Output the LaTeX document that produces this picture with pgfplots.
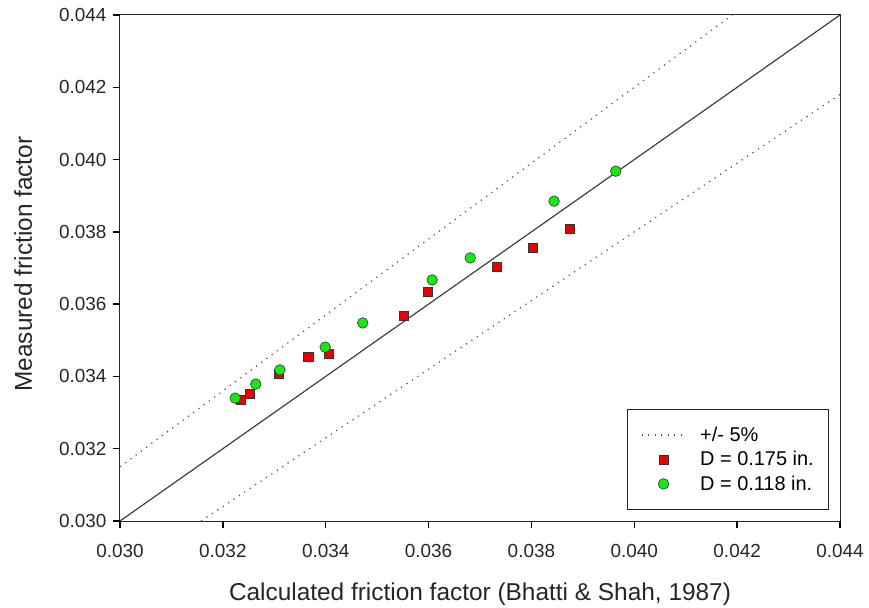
\documentclass[border=0pt]{standalone}
\usepackage{pgfplots}
\pgfplotsset{compat=1.18}
\usepackage{fontspec}
\setmainfont{Liberation Sans}
\definecolor{mred}{RGB}{235,0,0}
\definecolor{mgreen}{RGB}{20,235,20}
\definecolor{lgray}{RGB}{80,80,80}
\pgfplotsset{
  legline/.style={legend image code/.code={\draw[##1] (0bp,0bp) -- (44bp,0bp);}},
  legmark/.style={legend image code/.code={\draw[##1,mark repeat=2,mark phase=2] plot coordinates {(0bp,0bp) (22bp,0bp) (44bp,0bp)};}},
}
\begin{document}
\begin{tikzpicture}
\begin{axis}[name=ax, at={(0,0)}, anchor=south west,
  scale only axis, width=720bp, height=506bp,
  xmin=0.030, xmax=0.044, ymin=0.030, ymax=0.044,
  xtick={0.030,0.032,0.034,0.036,0.038,0.040,0.042,0.044},
  ytick={0.030,0.032,0.034,0.036,0.038,0.040,0.042,0.044},
  scaled ticks=false,
  tick label style={/pgf/number format/fixed, /pgf/number format/fixed zerofill, /pgf/number format/precision=3, /pgf/number format/assume math mode=true, font=\fontsize{19}{22}\selectfont, text=black!85},
  xticklabel style={yshift=-13bp},
  yticklabel style={xshift=-3bp},
  tick pos=left,
  tick align=outside,
  major tick length=7bp,
  tick style={black, line width=1.3bp},
  axis line style={line width=1bp, black!85},
  label style={font=\fontsize{24.5}{28}\selectfont, text=black!85},
  xlabel={Calculated friction factor (Bhatti \& Shah, 1987)},
  ylabel={Measured friction factor},
  xlabel style={at={(rel axis cs:0.5,0)}, anchor=base, yshift=-79bp},
  ylabel style={at={(rel axis cs:0,0.5)}, anchor=base, yshift=88bp, xshift=4bp},
  legend cell align=left,
  legend style={at={(rel axis cs:0.985,0.022)}, anchor=south east,
    draw=black!85, line width=1bp, font=\fontsize{20}{24}\selectfont,
    inner xsep=13bp, inner ysep=15.5bp, row sep=4.5bp,
    /tikz/every odd column/.append style={column sep=12bp}},
]
\addplot[lgray, line width=1.2bp, dash pattern=on 1.2bp off 5.3bp, legline]
  coordinates {(0.030,0.0315) (0.044,0.0462)};
\addlegendentry{+/- 5\%}
\addplot[lgray, line width=1.2bp, dash pattern=on 1.2bp off 5.3bp, forget plot]
  coordinates {(0.030,0.0285) (0.044,0.0418)};
\addplot[black!75, line width=1.2bp, forget plot]
  coordinates {(0.030,0.030) (0.044,0.044)};
\addplot[only marks, mark=square*, mark size=4.6bp, mark options={fill=mred, draw=black!80, line width=0.6bp}, legmark]
  coordinates {
  (0.03235,0.03335) (0.03253,0.03351) (0.03309,0.03407) (0.03366,0.03454)
  (0.03406,0.03462) (0.03552,0.03567) (0.03599,0.03634) (0.03733,0.03703)
  (0.03803,0.03755) (0.03875,0.03808)};
\addlegendentry{D = 0.175 in.}
\addplot[only marks, mark=*, mark size=5.3bp, mark options={fill=mgreen, draw=black!80, line width=0.6bp}, legmark]
  coordinates {
  (0.03224,0.03340) (0.03264,0.03379) (0.03311,0.03418) (0.03399,0.03481)
  (0.03472,0.03548) (0.03607,0.03667) (0.03681,0.03728) (0.03844,0.03885)
  (0.03964,0.03968)};
\addlegendentry{D = 0.118 in.}
\end{axis}
\foreach \t in {0,102.857,205.714,308.571,411.429,514.286,617.143,720}{
  \draw[black, line width=1.3bp] (\t bp,0bp) -- (\t bp,-7bp);
}
\foreach \t in {0,72.286,144.571,216.857,289.143,361.429,433.714,506}{
  \draw[black, line width=1.3bp] (0bp,\t bp) -- (-7bp,\t bp);
}
\pgfresetboundingbox
\path (-120bp,-87bp) rectangle (749bp,521bp);
\end{tikzpicture}
\end{document}
